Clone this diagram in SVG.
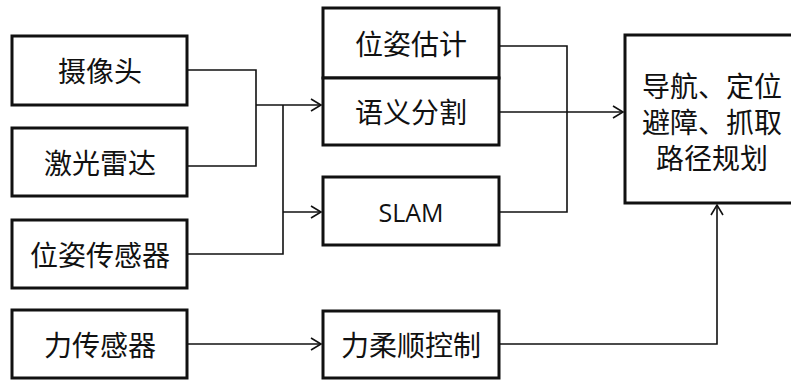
<svg xmlns="http://www.w3.org/2000/svg" width="791" height="381" viewBox="0 0 791 381">
<style>
.box{fill:#fff;stroke:#111;stroke-width:3}
.ln{fill:none;stroke:#111;stroke-width:1.6}
.t{font-family:"Noto Sans CJK SC","Noto Sans",sans-serif;font-size:28px;fill:#111;text-anchor:middle;dominant-baseline:central}
.s{font-family:"Open Sans","Noto Sans",sans-serif;font-size:25px;fill:#111;text-anchor:middle;dominant-baseline:central}
</style>
<defs>
<marker id="a" markerWidth="14" markerHeight="14" refX="12" refY="7" orient="auto" markerUnits="userSpaceOnUse">
<path d="M2,1 L12,7 L2,13" fill="none" stroke="#111" stroke-width="1.6"/>
</marker>
</defs>
<rect width="791" height="381" fill="#fff"/>
<g id="connectors">
<polyline class="ln" points="187,70 256,70 256,166 187,166"/>
<line class="ln" x1="256" y1="105" x2="321" y2="105" marker-end="url(#a)"/>
<polyline class="ln" points="187,254 283,254 283,105"/>
<line class="ln" x1="283" y1="212" x2="321" y2="212" marker-end="url(#a)"/>
<line class="ln" x1="187" y1="344" x2="321" y2="344" marker-end="url(#a)"/>
<polyline class="ln" points="499,46 567,46 567,212 499,212"/>
<line class="ln" x1="499" y1="112" x2="623" y2="112" marker-end="url(#a)"/>
<polyline class="ln" points="499,344 717,344 717,205" marker-end="url(#a)"/>
</g>
<g id="camera"><rect class="box" x="12" y="36" width="175" height="69"/><text class="t" x="100" y="70">摄像头</text></g>
<g id="lidar"><rect class="box" x="12" y="128" width="175" height="68"/><text class="t" x="100" y="162">激光雷达</text></g>
<g id="pose-sensor"><rect class="box" x="12" y="220" width="175" height="68"/><text class="t" x="100" y="254">位姿传感器</text></g>
<g id="force-sensor"><rect class="box" x="12" y="310" width="175" height="68"/><text class="t" x="100" y="344">力传感器</text></g>
<g id="pose-est"><rect class="box" x="323" y="8" width="176" height="70"/><text class="t" x="411" y="43">位姿估计</text></g>
<g id="semantic"><rect class="box" x="323" y="78" width="176" height="67"/><text class="t" x="411" y="111">语义分割</text></g>
<g id="slam"><rect class="box" x="323" y="177" width="176" height="68"/><text class="s" x="411" y="212">SLAM</text></g>
<g id="compliance"><rect class="box" x="323" y="311" width="176" height="67"/><text class="t" x="411" y="344">力柔顺控制</text></g>
<g id="nav"><rect class="box" x="625" y="35" width="180" height="168"/>
<text class="t"><tspan x="712" y="85">导航、定位</tspan><tspan x="712" y="121">避障、抓取</tspan><tspan x="712" y="157">路径规划</tspan></text></g>
</svg>
